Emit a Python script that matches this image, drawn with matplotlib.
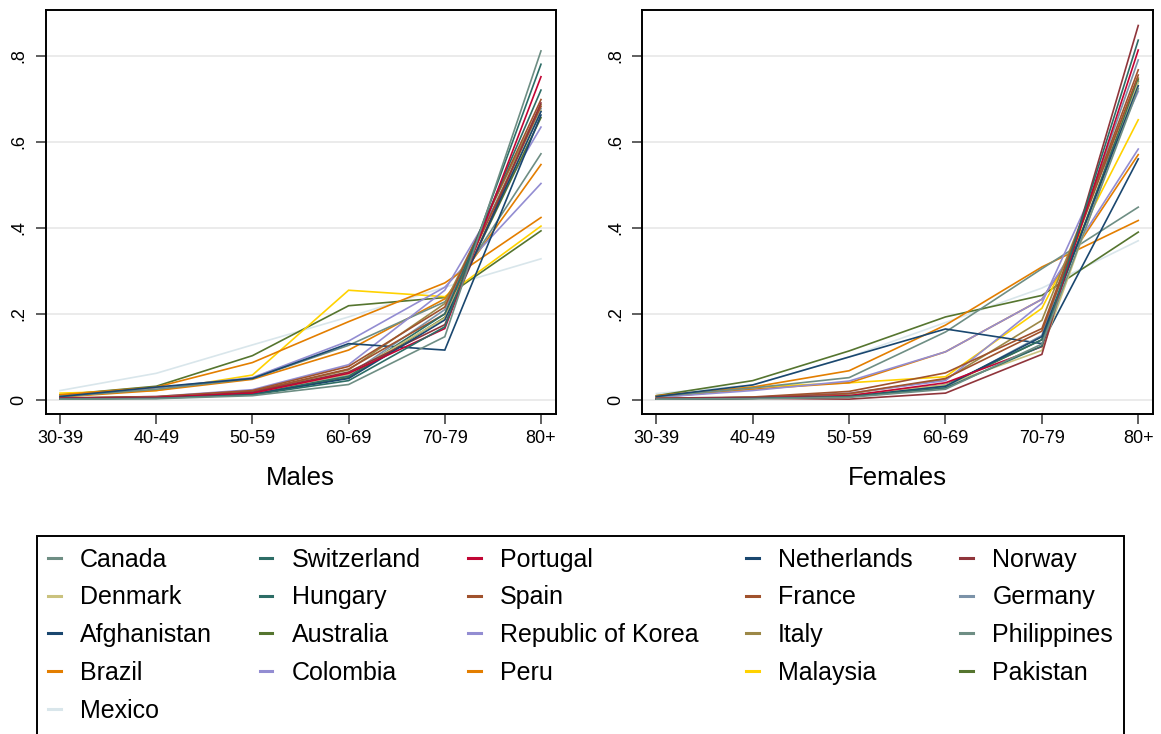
import matplotlib
matplotlib.use("Agg")
import matplotlib.pyplot as plt
from matplotlib.lines import Line2D
from matplotlib.patches import Rectangle

plt.rcParams['font.family'] = ['Liberation Sans', 'DejaVu Sans']

age_groups = ["30-39", "40-49", "50-59", "60-69", "70-79", "80+"]
y_ticks = [0, 0.2, 0.4, 0.6, 0.8]
y_tick_labels = ["0", ".2", ".4", ".6", ".8"]

countries = ["Canada", "Switzerland", "Portugal", "Netherlands", "Norway",
             "Denmark", "Hungary", "Spain", "France", "Germany",
             "Afghanistan", "Australia", "Republic of Korea", "Italy", "Philippines",
             "Brazil", "Colombia", "Peru", "Malaysia", "Pakistan",
             "Mexico"]

# Males
canada_m      = [0.002, 0.003, 0.010, 0.036, 0.147, 0.811]
switzerland_m = [0.003, 0.004, 0.012, 0.045, 0.170, 0.780]
portugal_m    = [0.004, 0.006, 0.016, 0.062, 0.166, 0.751]
netherlands_m = [0.003, 0.005, 0.013, 0.050, 0.186, 0.670]
norway_m      = [0.004, 0.006, 0.018, 0.065, 0.175, 0.690]
denmark_m     = [0.003, 0.006, 0.017, 0.060, 0.190, 0.672]
hungary_m     = [0.003, 0.005, 0.015, 0.055, 0.200, 0.720]
spain_m       = [0.005, 0.008, 0.022, 0.078, 0.216, 0.698]
france_m      = [0.004, 0.007, 0.020, 0.072, 0.200, 0.682]
germany_m     = [0.003, 0.006, 0.016, 0.058, 0.210, 0.677]
afghanistan_m = [0.008, 0.030, 0.050, 0.131, 0.116, 0.662]
australia_m   = [0.003, 0.005, 0.014, 0.052, 0.192, 0.656]
korea_m       = [0.004, 0.008, 0.024, 0.082, 0.255, 0.634]
italy_m       = [0.004, 0.007, 0.019, 0.070, 0.224, 0.686]
philippines_m = [0.008, 0.025, 0.050, 0.127, 0.228, 0.572]
brazil_m      = [0.012, 0.030, 0.087, 0.182, 0.272, 0.424]
colombia_m    = [0.008, 0.028, 0.052, 0.137, 0.262, 0.503]
peru_m        = [0.007, 0.022, 0.048, 0.116, 0.235, 0.547]
malaysia_m    = [0.016, 0.022, 0.058, 0.255, 0.240, 0.404]
pakistan_m    = [0.012, 0.032, 0.103, 0.219, 0.238, 0.393]
mexico_m      = [0.022, 0.062, 0.128, 0.193, 0.262, 0.328]

# Females
canada_f      = [0.002, 0.003, 0.006, 0.025, 0.130, 0.723]
switzerland_f = [0.002, 0.004, 0.008, 0.028, 0.125, 0.836]
portugal_f    = [0.003, 0.005, 0.010, 0.040, 0.124, 0.813]
netherlands_f = [0.002, 0.004, 0.008, 0.032, 0.147, 0.730]
norway_f      = [0.002, 0.004, 0.002, 0.016, 0.106, 0.870]
denmark_f     = [0.002, 0.004, 0.010, 0.035, 0.115, 0.738]
hungary_f     = [0.003, 0.005, 0.010, 0.035, 0.140, 0.740]
spain_f       = [0.004, 0.007, 0.020, 0.063, 0.166, 0.767]
france_f      = [0.003, 0.006, 0.015, 0.050, 0.160, 0.755]
germany_f     = [0.002, 0.004, 0.008, 0.030, 0.150, 0.790]
afghanistan_f = [0.008, 0.035, 0.100, 0.165, 0.131, 0.560]
australia_f   = [0.002, 0.004, 0.009, 0.033, 0.140, 0.745]
korea_f       = [0.003, 0.006, 0.016, 0.045, 0.225, 0.717]
italy_f       = [0.003, 0.006, 0.014, 0.048, 0.185, 0.748]
philippines_f = [0.008, 0.028, 0.052, 0.158, 0.305, 0.448]
brazil_f      = [0.010, 0.030, 0.068, 0.174, 0.309, 0.417]
colombia_f    = [0.006, 0.022, 0.044, 0.112, 0.234, 0.583]
peru_f        = [0.006, 0.025, 0.040, 0.112, 0.234, 0.570]
malaysia_f    = [0.008, 0.030, 0.040, 0.054, 0.213, 0.651]
pakistan_f    = [0.010, 0.045, 0.114, 0.193, 0.243, 0.390]
mexico_f      = [0.015, 0.035, 0.100, 0.180, 0.260, 0.370]

males = [canada_m, switzerland_m, portugal_m, netherlands_m, norway_m,
         denmark_m, hungary_m, spain_m, france_m, germany_m,
         afghanistan_m, australia_m, korea_m, italy_m, philippines_m,
         brazil_m, colombia_m, peru_m, malaysia_m, pakistan_m, mexico_m]
females = [canada_f, switzerland_f, portugal_f, netherlands_f, norway_f,
           denmark_f, hungary_f, spain_f, france_f, germany_f,
           afghanistan_f, australia_f, korea_f, italy_f, philippines_f,
           brazil_f, colombia_f, peru_f, malaysia_f, pakistan_f, mexico_f]

# Stata s2color palette
navy, maroon, forest = "#1a476f", "#90353b", "#55752f"
dkorange, teal, cranberry = "#e37e00", "#6e8e84", "#c10534"
lavender, khaki, sienna = "#938dd2", "#cac27e", "#a0522d"
emidblue, emerald, brown = "#7b92a8", "#2d6d66", "#9c8847"
gold, bluishgray = "#ffd200", "#d9e6eb"

colors = [teal, emerald, cranberry, navy, maroon,
          khaki, emerald, sienna, sienna, emidblue,
          navy, forest, lavender, brown, teal,
          dkorange, lavender, dkorange, gold, forest,
          bluishgray]

fig = plt.figure(figsize=(11.61, 7.34), dpi=100)
ax1 = fig.add_axes([45.7 / 1161, 1 - 414.3 / 734, 510 / 1161, 404.3 / 734])
ax2 = fig.add_axes([642 / 1161, 1 - 414.3 / 734, 511 / 1161, 404.3 / 734])

x = list(range(len(age_groups)))
for ax, data, title in [(ax1, males, "Males"), (ax2, females, "Females")]:
    # draw in reverse so first-listed series are on top
    for vals, col in zip(data[::-1], colors[::-1]):
        ax.plot(x, vals, color=col, lw=1.2, solid_joinstyle='miter')
    ax.set_xlim(-0.149, 5.153)
    ax.set_ylim(-0.0332, 0.906)
    ax.set_xticks(x)
    ax.set_xticklabels(age_groups, fontsize=13)
    ax.set_yticks(y_ticks)
    ax.set_yticklabels(y_tick_labels, fontsize=13, rotation=90, va='center')
    ax.yaxis.grid(True, color="#e8e8e8", lw=1.2)
    ax.set_axisbelow(True)
    ax.tick_params(axis='both', length=7, width=1.2, color="#444444")
    ax.tick_params(axis='x', pad=4)
    ax.tick_params(axis='y', pad=6)
    for sp in ax.spines.values():
        sp.set_linewidth(1.4)
        sp.set_color("black")
    ax.set_xlabel(title, fontsize=18.5, labelpad=14)

# legend: column-major order matching the row-major layout of the reference
order = [0, 5, 10, 15, 20,
         1, 6, 11, 16,
         2, 7, 12, 17,
         3, 8, 13, 18,
         4, 9, 14, 19]
handles = [Line2D([], [], color=colors[i], lw=2.2) for i in order]
labels = [countries[i] for i in order]
leg = fig.legend(handles, labels, ncol=5, loc='upper left',
                 bbox_to_anchor=(37 / 1161, 1 - 544 / 734, 1087 / 1161, 0.01),
                 mode='expand', fontsize=18, frameon=False,
                 handlelength=0.51, handletextpad=0.77,
                 labelspacing=0.55, borderpad=0.44, borderaxespad=0,
                 columnspacing=1.5)

# legend frame (open at the bottom edge of the image, as in the reference)
fig.patches.append(Rectangle((37 / 1161, -0.02), 1087 / 1161, (1 - 536 / 734) + 0.02,
                             transform=fig.transFigure, fill=False,
                             edgecolor='black', linewidth=1.4))

fig.savefig("out.png", dpi=100)
